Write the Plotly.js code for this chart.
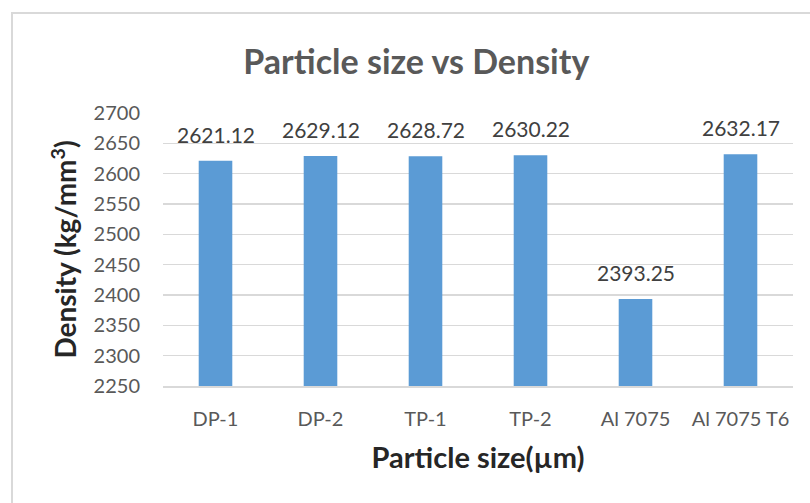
<!DOCTYPE html>
<html>
<head>
<meta charset="utf-8">
<script src="https://cdn.plot.ly/plotly-3.0.1.min.js"></script>
<style>
  html, body { margin: 0; padding: 0; background: #ffffff; }
  #wrap { position: relative; width: 810px; height: 503px; overflow: hidden; background: #ffffff; }
  #frame { position: absolute; left: 11px; top: 12px; width: 900px; height: 600px; border: 2px solid #D9D9D9; box-sizing: border-box; pointer-events: none; }
  #chart { position: absolute; left: 0; top: 0; width: 810px; height: 503px; }
</style>
</head>
<body>
<div id="wrap">
  <div id="frame"></div>
  <div id="chart"></div>
</div>
<script>
const categories = ["DP-1", "DP-2", "TP-1", "TP-2", "Al 7075", "Al 7075 T6"];
const density = [2621.12, 2629.12, 2628.72, 2630.22, 2393.25, 2632.17];
const densityLabels = ["2621.12", "2629.12", "2628.72", "2630.22", "2393.25", "2632.17"];
const yTicks = [2250, 2300, 2350, 2400, 2450, 2500, 2550, 2600, 2650, 2700];

const FONT = "Lato, 'Open Sans', sans-serif";

const trace = {
  type: "bar",
  x: categories,
  y: density,
  marker: { color: "#5B9BD5" },
  hoverinfo: "x+y"
};

const annotations = categories.map((c, i) => ({
  x: c,
  y: density[i],
  xref: "x",
  yref: "y",
  text: densityLabels[i],
  showarrow: false,
  yanchor: "bottom",
  yshift: 12,
  font: { family: FONT, size: 21, color: "#404040" }
}));

const layout = {
  width: 810,
  height: 503,
  margin: { l: 163, r: 17, t: 113, b: 117 },
  paper_bgcolor: "rgba(0,0,0,0)",
  plot_bgcolor: "rgba(0,0,0,0)",
  bargap: 0.68,
  showlegend: false,
  title: {
    text: "<b>Particle size vs Density</b>",
    font: { family: FONT, size: 34, color: "#595959" },
    xref: "container",
    yref: "container",
    x: 0.514,
    xanchor: "center",
    y: 0.877,
    yanchor: "middle"
  },
  xaxis: {
    type: "category",
    showgrid: false,
    showline: true,
    linecolor: "#D9D9D9",
    linewidth: 1.5,
    ticks: "",
    ticklabelstandoff: 14,
    tickfont: { family: FONT, size: 20, color: "#595959" },
    title: {
      text: "<b>Particle size(µm)</b>",
      font: { family: FONT, size: 29, color: "#262626" },
      standoff: 19
    }
  },
  yaxis: {
    range: [2250, 2700],
    tickvals: yTicks,
    ticktext: yTicks.map(String),
    showgrid: true,
    gridcolor: "#D9D9D9",
    gridwidth: 1.5,
    zeroline: false,
    showline: false,
    ticks: "",
    ticklabelstandoff: 22,
    tickfont: { family: FONT, size: 20, color: "#595959" },
    title: {
      text: "<b>Density (kg/mm<sup>3</sup>)</b>",
      font: { family: FONT, size: 28, color: "#262626" },
      standoff: 8
    }
  },
  annotations: annotations
};

Plotly.newPlot("chart", [trace], layout, { displayModeBar: false, staticPlot: true });
</script>
</body>
</html>
